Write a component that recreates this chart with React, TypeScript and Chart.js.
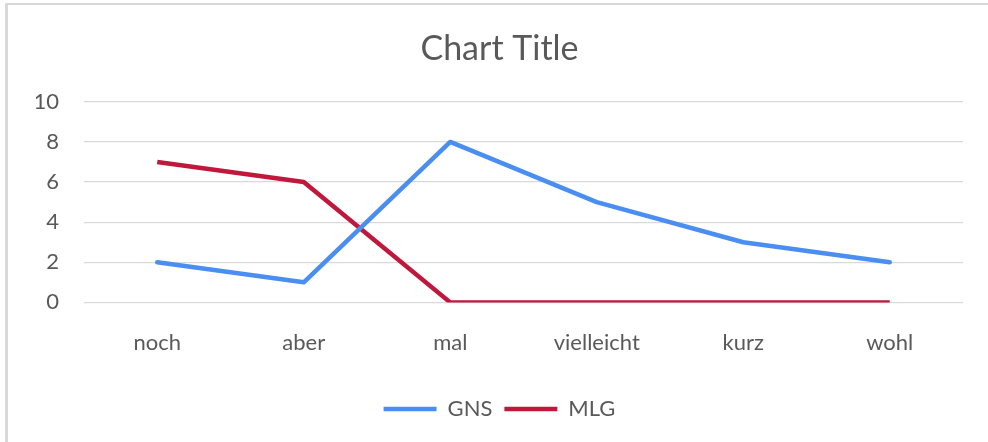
import React, { useEffect, useRef } from "react";
import { Chart, registerables } from "chart.js";

Chart.register(...registerables);

const categories = ["noch", "aber", "mal", "vielleicht", "kurz", "wohl"];
const gnsValues = [2, 1, 8, 5, 3, 2];
const mlgValues = [7, 6, 0, 0, 0, 0];
const yTickMin = 0;
const yTickMax = 10;
const yTickStep = 2;

const FONT = "Lato, 'Open Sans', sans-serif";
const TEXT = "#595959";

const framePlugin = {
  id: "frame",
  beforeDraw(chart: any) {
    const ctx = chart.ctx;
    ctx.save();
    ctx.fillStyle = "#ffffff";
    ctx.fillRect(0, 0, chart.width, chart.height);
    ctx.fillStyle = "#d9d9d9";
    ctx.fillRect(5, 3, 3, chart.height - 3);
    ctx.fillRect(5, 3, chart.width - 5, 2);
    ctx.restore();
  },
};

export default function App() {
  const ref = useRef<HTMLCanvasElement | null>(null);

  useEffect(() => {
    document.body.style.margin = "0";
    document.body.style.overflow = "hidden";
    if (!ref.current) return;
    const chart = new Chart(ref.current, {
      type: "line",
      data: {
        labels: categories,
        datasets: [
          {
            label: "GNS",
            data: gnsValues,
            borderColor: "#4A8EF2",
            backgroundColor: "#4A8EF2",
            borderWidth: 4.5,
            borderCapStyle: "round",
            borderJoinStyle: "round",
            pointRadius: 0,
            tension: 0,
          },
          {
            label: "MLG",
            data: mlgValues,
            borderColor: "#C0183D",
            backgroundColor: "#C0183D",
            borderWidth: 4.5,
            borderCapStyle: "butt",
            borderJoinStyle: "round",
            pointRadius: 0,
            tension: 0,
          },
        ],
      },
      plugins: [framePlugin],
      options: {
        responsive: false,
        animation: false,
        devicePixelRatio: 1,
        layout: { padding: { left: 36, right: 25, top: 0, bottom: 12 } },
        plugins: {
          title: {
            display: true,
            text: "Chart Title",
            color: TEXT,
            font: { family: FONT, size: 34, weight: "normal", lineHeight: 1.2 },
            padding: { top: 29, bottom: 32 },
          },
          legend: {
            display: true,
            position: "bottom",
            labels: {
              color: TEXT,
              font: { family: FONT, size: 22, lineHeight: 1.2 },
              usePointStyle: true,
              pointStyle: "line",
              pointStyleWidth: 53,
              padding: 12,
            },
          },
          tooltip: { enabled: false },
        },
        scales: {
          x: {
            offset: true,
            grid: { display: false, drawTicks: false },
            border: { display: false },
            ticks: {
              color: TEXT,
              font: { family: FONT, size: 22, lineHeight: 1.2 },
              padding: 27,
              maxRotation: 0,
            },
            afterFit: (scale: any) => {
              scale.height = 83.6;
            },
          },
          y: {
            min: yTickMin,
            max: yTickMax,
            grid: { color: "#d9d9d9", lineWidth: 1.3, drawTicks: false },
            border: { display: false },
            ticks: {
              stepSize: yTickStep,
              color: TEXT,
              font: { family: FONT, size: 22, lineHeight: 1.2 },
              padding: 25,
            },
            afterFit: (scale: any) => {
              scale.width = 48;
            },
          },
        },
      },
    });
    return () => chart.destroy();
  }, []);

  return (
    <div style={{ position: "relative", width: 988, height: 442, overflow: "hidden", background: "#fff" }}>
      <canvas ref={ref} width={988} height={442} style={{ display: "block", width: 988, height: 442 }} />
    </div>
  );
}
